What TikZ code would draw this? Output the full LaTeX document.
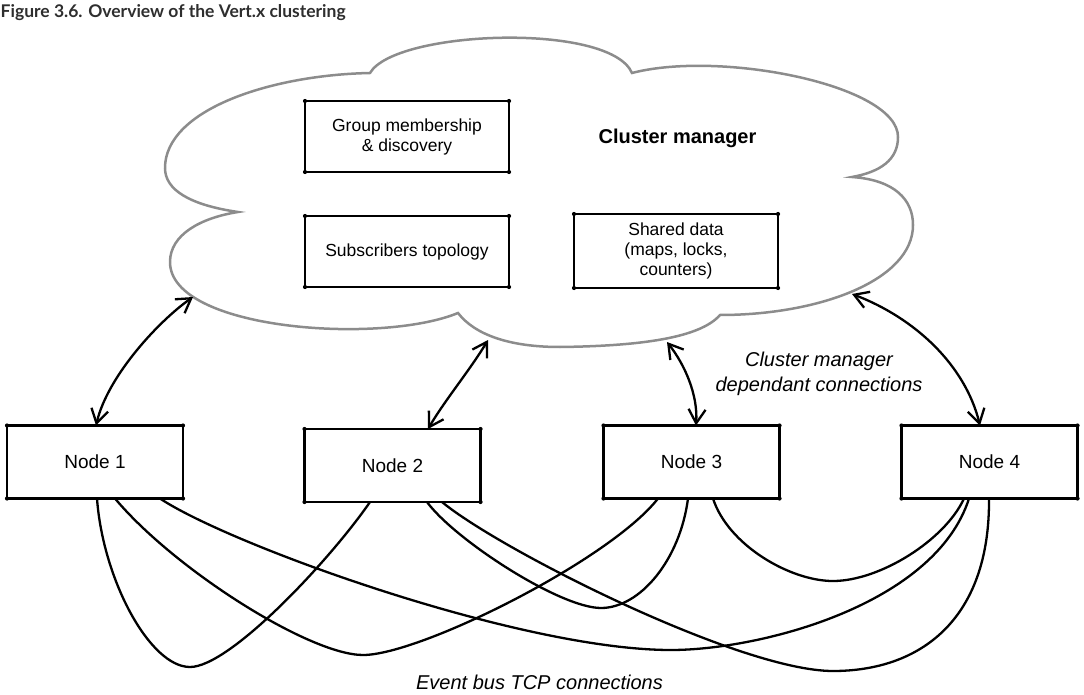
\documentclass[tikz,border=0pt]{standalone}
\usepackage{fontspec}
\setmainfont{Liberation Sans}
\newfontfamily\titlefont{Lato}
\usetikzlibrary{arrows.meta}
\definecolor{cloudgray}{HTML}{8C8C8C}
\definecolor{titlecol}{HTML}{2E2E2E}
\begin{document}
\begin{tikzpicture}[x=1pt,y=-1pt,
  cloudline/.style={draw=cloudgray, line width=2.5pt},
  hbox/.style={draw, line width=2.8pt, inner sep=0pt, outer sep=0pt, align=center,
    font=\fontsize{17.5}{20}\selectfont},
  nodebox/.style={hbox, minimum width=176pt, minimum height=73pt,
    font=\fontsize{19}{22}\selectfont},
  conn/.style={line width=2.3pt},
  dual/.style={conn, {Straight Barb[length=14pt,width=17pt]}-{Straight Barb[length=14pt,width=17pt]}},
  lbl/.style={inner sep=0pt, align=center, font=\fontsize{20}{25}\selectfont\itshape}]
\useasboundingbox (0,0) rectangle (1084,695);

% title
\node[anchor=base west, inner sep=0pt, text=titlecol,
  font=\titlefont\bfseries\fontsize{17.5}{20}\selectfont] (title) at (0.5,17.5)
  {Figure 3.6. Overview of the Vert.x clustering};

% cloud
\draw[cloudline] (370,73) .. controls (395,30) and (610,22) .. (632,73)
  .. controls (720,50) and (898,85) .. (898,137)
  .. controls (898,160) and (880,172) .. (852,177)
  .. controls (895,180) and (913,200) .. (913,225)
  .. controls (913,280) and (820,315) .. (720,315)
  .. controls (700,338) and (640,346) .. (560,347)
  .. controls (510,347) and (475,335) .. (458,313)
  .. controls (380,345) and (170,330) .. (170,262)
  .. controls (170,235) and (200,218) .. (238,212)
  .. controls (190,205) and (165,190) .. (165,168)
  .. controls (165,110) and (270,75) .. (370,73) -- cycle;

\node[font=\fontsize{20}{24}\selectfont\bfseries, inner sep=0pt] (cmtitle) at (677.5,138) {Cluster manager};
\node[hbox, minimum width=204pt, minimum height=71pt] (gm) at (407,136.5) {Group membership\\\& discovery};
\node[hbox, minimum width=204pt, minimum height=71pt] (st) at (407,251.5) {Subscribers topology};
\node[hbox, minimum width=204pt, minimum height=74pt] (sd) at (676,251) {Shared data\\(maps, locks,\\counters)};

% cluster nodes
\node[nodebox] (n1) at (95,462) {Node 1};
\node[nodebox] (n2) at (392.5,465.5) {Node 2};
\node[nodebox] (n3) at (691.5,462) {Node 3};
\node[nodebox] (n4) at (989.5,462) {Node 4};

\foreach \n in {gm,st,sd,n1,n2,n3,n4}
  \foreach \a in {north west,north east,south west,south east}
    \fill (\n.\a) circle (2.1pt);

% cloud attachment points
\coordinate (c1) at (193,297);
\coordinate (c2) at (488,340);
\coordinate (c3) at (667,342);
\coordinate (c4) at (852,294);

% cluster manager dependant connections
\draw[dual] ([xshift=89pt]n1.north west) .. controls (108,375) and (160,320) .. (c1);
\draw[dual] ([xshift=123.5pt]n2.north west) .. controls (445,400) and (470,370) .. (c2);
\draw[dual] ([xshift=92.5pt]n3.north west) .. controls (698,395) and (685,365) .. (c3);
\draw[dual] ([xshift=78.5pt]n4.north west) .. controls (965,365) and (915,318) .. (c4);

\node[lbl] (cmlabel) at (819,373.5) {Cluster manager\\dependant connections};

% event bus connections
\draw[conn] ([xshift=90pt]n1.south west) .. controls (103,580) and (150,667) .. (190,667)
  .. controls (230,667) and (330,560) .. ([xshift=65.5pt]n2.south west);
\draw[conn] ([xshift=108pt]n1.south west) .. controls (175,570) and (310,655) .. (363,655)
  .. controls (420,655) and (610,560) .. ([xshift=54.5pt]n3.south west);
\draw[conn] ([xshift=153pt]n1.south west) .. controls (230,545) and (520,650) .. (671,650)
  .. controls (760,650) and (935,605) .. ([xshift=67.5pt]n4.south west);
\draw[conn] ([xshift=122.5pt]n2.south west) .. controls (455,540) and (560,608) .. (601,608)
  .. controls (640,608) and (680,560) .. ([xshift=84.5pt]n3.south west);
\draw[conn] ([xshift=137.5pt]n2.south west) .. controls (500,550) and (740,671) .. (833,671)
  .. controls (920,671) and (990,620) .. ([xshift=87.5pt]n4.south west);
\draw[conn] ([xshift=109.5pt]n3.south west) .. controls (728,545) and (790,581) .. (833,581)
  .. controls (880,581) and (945,540) .. ([xshift=62.5pt]n4.south west);

\node[lbl] (eblabel) at (539.5,682) {Event bus TCP connections};
\end{tikzpicture}
\end{document}
